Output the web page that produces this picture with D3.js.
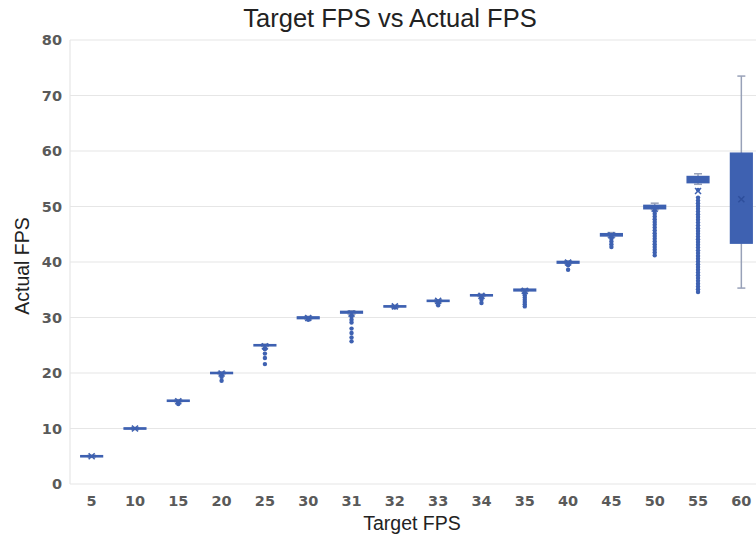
<!DOCTYPE html>
<html>
<head>
<meta charset="utf-8">
<script src="https://cdn.jsdelivr.net/npm/d3@7"></script>
<style>
  html, body { margin: 0; padding: 0; background: #fff; }
  svg { display: block; }
</style>
</head>
<body>
<svg id="chart" width="756" height="537"></svg>
<script>
// ---- data ----
const categories = ["5","10","15","20","25","30","31","32","33","34","35","40","45","50","55","60"];
const q1Values     = [4.9, 9.9, 14.9, 19.9, 24.9, 29.8, 30.8, 31.9, 32.9, 33.9, 34.8, 39.8, 44.7, 49.6, 54.3, 43.4];
const medianValues = [5.0, 10.0, 15.0, 20.0, 25.0, 30.0, 31.0, 32.0, 33.0, 34.0, 35.0, 40.0, 44.9, 50.0, 55.0, 50.5];
const q3Values     = [5.1, 10.1, 15.1, 20.1, 25.1, 30.1, 31.1, 32.1, 33.1, 34.1, 35.1, 40.1, 45.1, 50.2, 55.4, 59.6];
const whiskerLow   = [4.8, 9.8, 14.8, 19.8, 24.8, 29.7, 30.6, 31.8, 32.8, 33.8, 34.7, 39.7, 44.5, 49.4, 54.0, 35.3];
const whiskerHigh  = [5.2, 10.2, 15.2, 20.2, 25.2, 30.2, 31.2, 32.2, 33.2, 34.2, 35.2, 40.2, 45.3, 50.6, 55.9, 73.5];
const meanValues   = [5.0, 10.0, 14.9, 19.9, 24.8, 29.9, 30.7, 32.0, 33.0, 33.9, 34.8, 39.9, 44.8, 49.6, 52.8, 51.3];
const outlierValues = [
  [],
  [],
  [14.6, 14.4],
  [19.6, 19.3, 18.6],
  [24.3, 23.5, 22.7, 21.6],
  [29.6],
  [30.2, 29.6, 29.1, 28.0, 27.2, 26.4, 25.7],
  [31.8],
  [32.6, 32.2],
  [33.6, 33.2, 32.6],
  [34.4, 34.0, 33.6, 33.2, 32.8, 32.4, 32.0],
  [39.4, 38.6],
  [44.2, 43.7, 43.2, 42.7],
  [49.2, 48.7, 48.2, 47.7, 47.2, 46.7, 46.2, 45.7, 45.2, 44.7, 44.2, 43.7, 43.2, 42.7, 42.2, 41.7, 41.2],
  [53.0, 51.6, 51.1, 50.6, 50.1, 49.6, 49.1, 48.6, 48.1, 47.6, 47.1, 46.6, 46.1, 45.6, 45.1, 44.6, 44.1, 43.6, 43.1, 42.6, 42.1, 41.6, 41.1, 40.6, 40.1, 39.6, 39.1, 38.6, 38.1, 37.6, 37.1, 36.6, 36.1, 35.6, 35.1, 34.6],
  []
];
const yTicks = [0, 10, 20, 30, 40, 50, 60, 70, 80];

// ---- layout ----
const svg = d3.select("#chart");
const mLeft = 70, mRight = 763, mTop = 40, mBottom = 484;

const x = d3.scaleBand().domain(categories).range([mLeft, mRight]).paddingInner(0).paddingOuter(0);
const y = d3.scaleLinear().domain([0, 80]).range([mBottom, mTop]);

const blue = "#3e61b1";
const whiskerColor = "#98a1b8";
const tickFont = "DejaVu Sans, sans-serif";

// gridlines
svg.append("g")
  .selectAll("line")
  .data(yTicks)
  .join("line")
  .attr("x1", mLeft).attr("x2", 756)
  .attr("y1", d => y(d)).attr("y2", d => y(d))
  .attr("stroke", "#e6e6e6").attr("stroke-width", 1.2);

// left axis line
svg.append("line")
  .attr("x1", mLeft).attr("x2", mLeft)
  .attr("y1", mTop).attr("y2", mBottom)
  .attr("stroke", "#e6e6e6").attr("stroke-width", 1.2);

// y axis
const yAxis = svg.append("g")
  .attr("transform", `translate(${mLeft},0)`)
  .call(d3.axisLeft(y).tickValues(yTicks).tickSize(0).tickPadding(8));
yAxis.select(".domain").remove();
yAxis.selectAll("text")
  .attr("font-family", tickFont).attr("font-weight", "bold")
  .attr("font-size", 14.5).attr("fill", "#5a5a5a");

// x axis
const xAxis = svg.append("g")
  .attr("transform", `translate(0,${mBottom})`)
  .call(d3.axisBottom(x).tickSize(0).tickPadding(12));
xAxis.select(".domain").remove();
xAxis.selectAll("text")
  .attr("font-family", tickFont).attr("font-weight", "bold")
  .attr("font-size", 14.5).attr("fill", "#5a5a5a");

// boxes
const data = categories.map((c, i) => ({
  c, q1: q1Values[i], med: medianValues[i], q3: q3Values[i],
  lo: whiskerLow[i], hi: whiskerHigh[i], mean: meanValues[i], out: outlierValues[i]
}));

const bw = x.bandwidth() * 0.5;
const cx = d => x(d.c) + x.bandwidth() / 2;

const g = svg.append("g");
const box = g.selectAll("g.box").data(data).join("g").attr("class", "box");

// whiskers
box.append("line")
  .attr("x1", cx).attr("x2", cx)
  .attr("y1", d => y(d.hi)).attr("y2", d => y(d.q3))
  .attr("stroke", whiskerColor).attr("stroke-width", 1.5);
box.append("line")
  .attr("x1", cx).attr("x2", cx)
  .attr("y1", d => y(d.q1)).attr("y2", d => y(d.lo))
  .attr("stroke", whiskerColor).attr("stroke-width", 1.5);
// caps
["hi", "lo"].forEach(k => {
  box.append("line")
    .attr("x1", d => cx(d) - 4).attr("x2", d => cx(d) + 4)
    .attr("y1", d => y(d[k])).attr("y2", d => y(d[k]))
    .attr("stroke", whiskerColor).attr("stroke-width", 1.5);
});

// box rects
box.append("rect")
  .attr("x", d => cx(d) - bw / 2)
  .attr("width", bw)
  .attr("y", d => y(d.q3))
  .attr("height", d => Math.max(0, y(d.q1) - y(d.q3)))
  .attr("fill", blue).attr("stroke", blue).attr("stroke-width", 1.5);

// median
box.append("line")
  .attr("x1", d => cx(d) - bw / 2).attr("x2", d => cx(d) + bw / 2)
  .attr("y1", d => y(d.med)).attr("y2", d => y(d.med))
  .attr("stroke", blue).attr("stroke-width", 1.5);

// outliers
box.selectAll("circle")
  .data(d => d.out.map(v => ({ c: d.c, v })))
  .join("circle")
  .attr("cx", cx)
  .attr("cy", d => y(d.v))
  .attr("r", 2.2)
  .attr("fill", blue);

// mean markers (x)
const ms = 3;
box.append("path")
  .attr("d", d => {
    const px = cx(d), py = y(d.mean);
    return `M${px - ms},${py - ms}L${px + ms},${py + ms}M${px - ms},${py + ms}L${px + ms},${py - ms}`;
  })
  .attr("stroke", d => d.c === "60" ? "#2e4f9c" : blue)
  .attr("stroke-width", 1.5).attr("fill", "none");

// titles
svg.append("text")
  .attr("x", 390).attr("y", 27)
  .attr("text-anchor", "middle")
  .attr("font-family", "Liberation Sans, Arial, sans-serif")
  .attr("font-size", 25.5).attr("fill", "#222")
  .text("Target FPS vs Actual FPS");

svg.append("text")
  .attr("x", 412).attr("y", 530)
  .attr("text-anchor", "middle")
  .attr("font-family", "Liberation Sans, Arial, sans-serif")
  .attr("font-size", 19.5).attr("fill", "#222")
  .text("Target FPS");

svg.append("text")
  .attr("transform", "translate(29,266) rotate(-90)")
  .attr("text-anchor", "middle")
  .attr("font-family", "Liberation Sans, Arial, sans-serif")
  .attr("font-size", 19.5).attr("fill", "#222")
  .text("Actual FPS");
</script>
</body>
</html>
